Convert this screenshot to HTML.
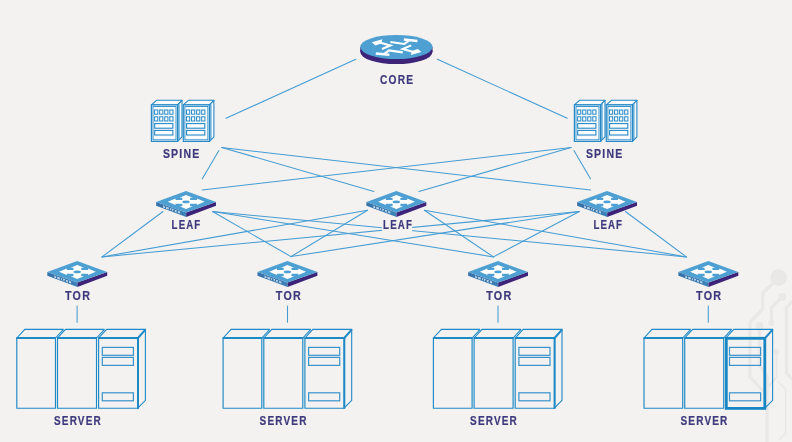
<!DOCTYPE html>
<html lang="en"><head><meta charset="utf-8"><title>Network topology</title>
<style>html,body{margin:0;padding:0;background:#f3f2f0;}body{width:792px;height:442px;overflow:hidden;}svg{display:block;will-change:transform;}text{font-family:"Liberation Sans", sans-serif;font-weight:700;}</style>
</head><body>
<svg width="792" height="442" viewBox="0 0 792 442">
<defs><linearGradient id="sideg" x1="0" y1="0" x2="1" y2="0"><stop offset="0" stop-color="#3871aa"/><stop offset="1" stop-color="#3d82ba"/></linearGradient></defs>
<rect x="0" y="0" width="792" height="442" fill="#f3f2f0"/>
<g fill="none" stroke="#e9e8e6" stroke-width="3.2" stroke-linecap="round" stroke-linejoin="round">
<path d="M778.7 277.6 L762.8 293 L762.8 308.8 L749.9 322.4 L749.9 377 L762 390"/>
<path d="M782.3 296.8 L771.4 307.7 L771.4 322.9"/>
<path d="M792 301.8 L786.5 307.7 L786.5 373 L792 379"/>
<path d="M759.5 325.8 L759.5 366 L767 376 L767 442"/>
<path d="M776.5 351.4 L776.5 377 L769 386" stroke-width="2.2"/>
<path d="M777.9 381.4 L785.6 389.1 L785.6 433.3 L779.3 440" stroke-width="1.3"/>
</g>
<g fill="#e9e8e6"><circle cx="778.7" cy="277.6" r="8.3"/><circle cx="782.3" cy="296.8" r="3.9"/><circle cx="771.4" cy="322.9" r="3"/><circle cx="759.5" cy="325.8" r="3.8"/><circle cx="776.5" cy="351.4" r="2.8"/></g>
<g stroke="#459cd3" stroke-width="1.05" stroke-linecap="round" fill="none">
<line x1="355.8" y1="59.2" x2="226.0" y2="118.3"/>
<line x1="437.4" y1="59.2" x2="567.2" y2="118.3"/>
<line x1="218.9" y1="150.6" x2="202.2" y2="178.9"/>
<line x1="221.7" y1="147.5" x2="373.9" y2="191.4"/>
<line x1="221.7" y1="147.5" x2="590.6" y2="190.0"/>
<line x1="573.9" y1="150.6" x2="590.6" y2="178.9"/>
<line x1="571.1" y1="147.5" x2="418.9" y2="191.4"/>
<line x1="571.1" y1="147.5" x2="202.2" y2="190.0"/>
<line x1="163.0" y1="211.5" x2="102.0" y2="256.9"/>
<line x1="212.5" y1="211.5" x2="291.0" y2="256.6"/>
<line x1="212.5" y1="211.5" x2="493.4" y2="256.9"/>
<line x1="212.5" y1="211.5" x2="686.4" y2="256.9"/>
<line x1="367.5" y1="210.3" x2="102.0" y2="256.9"/>
<line x1="367.5" y1="210.3" x2="291.0" y2="256.6"/>
<line x1="424.4" y1="210.3" x2="493.4" y2="256.9"/>
<line x1="424.4" y1="210.3" x2="686.4" y2="256.9"/>
<line x1="579.4" y1="211.5" x2="102.0" y2="256.9"/>
<line x1="579.4" y1="211.5" x2="291.0" y2="256.6"/>
<line x1="579.4" y1="211.5" x2="493.4" y2="256.9"/>
<line x1="625.4" y1="211.5" x2="686.4" y2="256.9"/>
<line x1="77.1" y1="306.0" x2="77.1" y2="322.3"/>
<line x1="287.5" y1="306.0" x2="287.5" y2="322.3"/>
<line x1="498.0" y1="306.0" x2="498.0" y2="322.3"/>
<line x1="708.3" y1="306.0" x2="708.3" y2="322.3"/>
</g>
<rect x="381.9" y="218" width="30.3" height="16" fill="#f3f2f0"/>
<g>
<ellipse cx="396.4" cy="52" rx="36.1" ry="12.1" fill="#3e2479"/>
<rect x="360.3" y="47" width="72.2" height="5" fill="#3e2479"/>
<ellipse cx="396.4" cy="47" rx="36.1" ry="12.1" fill="#4fa0d2"/>
<g transform="translate(396.6 47.2)"><g fill="none" stroke="#fff" stroke-width="2.1" stroke-linejoin="miter"><path d="M-18,-5 L-6.2,-1.8 L-14.6,1.8"/><path d="M12.4,-6.6 L7.6,-3.2 L-6.2,-5.2"/><path d="M7.2,-7.6 L20.8,-6.2" stroke-width="2.5"/></g><polygon points="-24.8,-4.9 -14.2,-7.9 -15.4,-3.8 -21.2,-1.8" fill="#fff"/><g transform="rotate(180)"><g fill="none" stroke="#fff" stroke-width="2.1" stroke-linejoin="miter"><path d="M-18,-5 L-6.2,-1.8 L-14.6,1.8"/><path d="M12.4,-6.6 L7.6,-3.2 L-6.2,-5.2"/><path d="M7.2,-7.6 L20.8,-6.2" stroke-width="2.5"/></g><polygon points="-24.8,-4.9 -14.2,-7.9 -15.4,-3.8 -21.2,-1.8" fill="#fff"/></g></g>
</g>
<text id="lc" x="380.10" y="84.10" font-size="12.2" letter-spacing="1.4" fill="#3e397c" stroke="#3e397c" stroke-width="0.2" textLength="34.10" lengthAdjust="spacingAndGlyphs">CORE</text>
<g transform="translate(151.4 0)" stroke="#2589c8" stroke-linejoin="miter" fill="none">
<polygon points="0,104.9 5.1,100.3 30.6,100.3 26.2,104.9" fill="#f9fafb" stroke-width="1.1" stroke-linejoin="round"/>
<polygon points="26.2,104.9 30.6,100.3 30.6,136.8 26.2,141.4" fill="#f9fafb" stroke-width="1.1" stroke-linejoin="round"/>
<line x1="27.6" y1="104.2" x2="27.6" y2="139.6" stroke-width="1"/>
<rect x="0" y="104.9" width="26.2" height="36.5" fill="#f9fafb" stroke-width="1.2"/>
<rect x="1.6" y="106.5" width="23" height="33.3" stroke-width="0.9"/>
<rect x="3.20" y="110.0" width="3.2" height="4.2" fill="#fff" stroke-width="1"/>
<rect x="8.26" y="110.0" width="3.2" height="4.2" fill="#fff" stroke-width="1"/>
<rect x="13.32" y="110.0" width="3.2" height="4.2" fill="#fff" stroke-width="1"/>
<rect x="18.38" y="110.0" width="3.2" height="4.2" fill="#fff" stroke-width="1"/>
<rect x="3.20" y="116.8" width="3.2" height="4.2" fill="#fff" stroke-width="1"/>
<rect x="8.26" y="116.8" width="3.2" height="4.2" fill="#fff" stroke-width="1"/>
<rect x="13.32" y="116.8" width="3.2" height="4.2" fill="#fff" stroke-width="1"/>
<rect x="18.38" y="116.8" width="3.2" height="4.2" fill="#fff" stroke-width="1"/>
<rect x="3.3" y="123.6" width="18.2" height="4.6" fill="#fff" stroke-width="1.1"/>
<rect x="3.3" y="130.4" width="18.2" height="4.6" fill="#fff" stroke-width="1.1"/>
</g>
<g transform="translate(183.3 0)" stroke="#2589c8" stroke-linejoin="miter" fill="none">
<polygon points="0,104.9 5.1,100.3 30.6,100.3 26.2,104.9" fill="#f9fafb" stroke-width="1.1" stroke-linejoin="round"/>
<polygon points="26.2,104.9 30.6,100.3 30.6,136.8 26.2,141.4" fill="#f9fafb" stroke-width="1.1" stroke-linejoin="round"/>
<line x1="27.6" y1="104.2" x2="27.6" y2="139.6" stroke-width="1"/>
<rect x="0" y="104.9" width="26.2" height="36.5" fill="#f9fafb" stroke-width="1.2"/>
<rect x="1.6" y="106.5" width="23" height="33.3" stroke-width="0.9"/>
<rect x="3.20" y="110.0" width="3.2" height="4.2" fill="#fff" stroke-width="1"/>
<rect x="8.26" y="110.0" width="3.2" height="4.2" fill="#fff" stroke-width="1"/>
<rect x="13.32" y="110.0" width="3.2" height="4.2" fill="#fff" stroke-width="1"/>
<rect x="18.38" y="110.0" width="3.2" height="4.2" fill="#fff" stroke-width="1"/>
<rect x="3.20" y="116.8" width="3.2" height="4.2" fill="#fff" stroke-width="1"/>
<rect x="8.26" y="116.8" width="3.2" height="4.2" fill="#fff" stroke-width="1"/>
<rect x="13.32" y="116.8" width="3.2" height="4.2" fill="#fff" stroke-width="1"/>
<rect x="18.38" y="116.8" width="3.2" height="4.2" fill="#fff" stroke-width="1"/>
<rect x="3.3" y="123.6" width="18.2" height="4.6" fill="#fff" stroke-width="1.1"/>
<rect x="3.3" y="130.4" width="18.2" height="4.6" fill="#fff" stroke-width="1.1"/>
</g>
<g transform="translate(574.4 0)" stroke="#2589c8" stroke-linejoin="miter" fill="none">
<polygon points="0,104.9 5.1,100.3 30.6,100.3 26.2,104.9" fill="#f9fafb" stroke-width="1.1" stroke-linejoin="round"/>
<polygon points="26.2,104.9 30.6,100.3 30.6,136.8 26.2,141.4" fill="#f9fafb" stroke-width="1.1" stroke-linejoin="round"/>
<line x1="27.6" y1="104.2" x2="27.6" y2="139.6" stroke-width="1"/>
<rect x="0" y="104.9" width="26.2" height="36.5" fill="#f9fafb" stroke-width="1.2"/>
<rect x="1.6" y="106.5" width="23" height="33.3" stroke-width="0.9"/>
<rect x="3.20" y="110.0" width="3.2" height="4.2" fill="#fff" stroke-width="1"/>
<rect x="8.26" y="110.0" width="3.2" height="4.2" fill="#fff" stroke-width="1"/>
<rect x="13.32" y="110.0" width="3.2" height="4.2" fill="#fff" stroke-width="1"/>
<rect x="18.38" y="110.0" width="3.2" height="4.2" fill="#fff" stroke-width="1"/>
<rect x="3.20" y="116.8" width="3.2" height="4.2" fill="#fff" stroke-width="1"/>
<rect x="8.26" y="116.8" width="3.2" height="4.2" fill="#fff" stroke-width="1"/>
<rect x="13.32" y="116.8" width="3.2" height="4.2" fill="#fff" stroke-width="1"/>
<rect x="18.38" y="116.8" width="3.2" height="4.2" fill="#fff" stroke-width="1"/>
<rect x="3.3" y="123.6" width="18.2" height="4.6" fill="#fff" stroke-width="1.1"/>
<rect x="3.3" y="130.4" width="18.2" height="4.6" fill="#fff" stroke-width="1.1"/>
</g>
<g transform="translate(606.3 0)" stroke="#2589c8" stroke-linejoin="miter" fill="none">
<polygon points="0,104.9 5.1,100.3 30.6,100.3 26.2,104.9" fill="#f9fafb" stroke-width="1.1" stroke-linejoin="round"/>
<polygon points="26.2,104.9 30.6,100.3 30.6,136.8 26.2,141.4" fill="#f9fafb" stroke-width="1.1" stroke-linejoin="round"/>
<line x1="27.6" y1="104.2" x2="27.6" y2="139.6" stroke-width="1"/>
<rect x="0" y="104.9" width="26.2" height="36.5" fill="#f9fafb" stroke-width="1.2"/>
<rect x="1.6" y="106.5" width="23" height="33.3" stroke-width="0.9"/>
<rect x="3.20" y="110.0" width="3.2" height="4.2" fill="#fff" stroke-width="1"/>
<rect x="8.26" y="110.0" width="3.2" height="4.2" fill="#fff" stroke-width="1"/>
<rect x="13.32" y="110.0" width="3.2" height="4.2" fill="#fff" stroke-width="1"/>
<rect x="18.38" y="110.0" width="3.2" height="4.2" fill="#fff" stroke-width="1"/>
<rect x="3.20" y="116.8" width="3.2" height="4.2" fill="#fff" stroke-width="1"/>
<rect x="8.26" y="116.8" width="3.2" height="4.2" fill="#fff" stroke-width="1"/>
<rect x="13.32" y="116.8" width="3.2" height="4.2" fill="#fff" stroke-width="1"/>
<rect x="18.38" y="116.8" width="3.2" height="4.2" fill="#fff" stroke-width="1"/>
<rect x="3.3" y="123.6" width="18.2" height="4.6" fill="#fff" stroke-width="1.1"/>
<rect x="3.3" y="130.4" width="18.2" height="4.6" fill="#fff" stroke-width="1.1"/>
</g>
<text id="ls1" x="162.90" y="158.00" font-size="12.2" letter-spacing="1.4" fill="#3e397c" stroke="#3e397c" stroke-width="0.2" textLength="37.50" lengthAdjust="spacingAndGlyphs">SPINE</text>
<text id="ls2" x="585.90" y="158.00" font-size="12.2" letter-spacing="1.4" fill="#3e397c" stroke="#3e397c" stroke-width="0.2" textLength="37.50" lengthAdjust="spacingAndGlyphs">SPINE</text>
<g transform="translate(186.0 190.9)">
<polygon points="-29.9,11.2 0.2,21.6 0.2,26 -29.9,14.8" fill="url(#sideg)"/>
<polygon points="0.2,21.6 30,11.2 30,14.8 0.2,26" fill="#3e2479"/>
<polygon points="0,0 30,11.2 0.2,21.7 -29.9,11.2" fill="#4fa0d2"/>
<g fill="#fff">
<polygon points="-18.2,10.8 -10.5,7.5 -10.5,9.1 10.9,9.1 10.9,7.5 18.6,10.8 10.9,14.2 10.9,12.9 -10.5,12.9 -10.5,14.2"/>
<polygon points="0,4 6.9,6.8 4.1,6.8 4.1,15.3 6.9,15.3 0,18 -6.5,15.3 -3.7,15.3 -3.7,6.8 -6.5,6.8"/>
</g>
<ellipse cx="0" cy="11" rx="3.7" ry="1.35" fill="#4fa0d2"/>
<text transform="translate(-23.0 16.7) skewY(19.3)" font-size="2.9" fill="#fff" stroke="#fff" stroke-width="0.06" textLength="17.0" lengthAdjust="spacing">SWITCH</text>
</g>
<g transform="translate(396.3 190.9)">
<polygon points="-29.9,11.2 0.2,21.6 0.2,26 -29.9,14.8" fill="url(#sideg)"/>
<polygon points="0.2,21.6 30,11.2 30,14.8 0.2,26" fill="#3e2479"/>
<polygon points="0,0 30,11.2 0.2,21.7 -29.9,11.2" fill="#4fa0d2"/>
<g fill="#fff">
<polygon points="-18.2,10.8 -10.5,7.5 -10.5,9.1 10.9,9.1 10.9,7.5 18.6,10.8 10.9,14.2 10.9,12.9 -10.5,12.9 -10.5,14.2"/>
<polygon points="0,4 6.9,6.8 4.1,6.8 4.1,15.3 6.9,15.3 0,18 -6.5,15.3 -3.7,15.3 -3.7,6.8 -6.5,6.8"/>
</g>
<ellipse cx="0" cy="11" rx="3.7" ry="1.35" fill="#4fa0d2"/>
<text transform="translate(-23.0 16.7) skewY(19.3)" font-size="2.9" fill="#fff" stroke="#fff" stroke-width="0.06" textLength="17.0" lengthAdjust="spacing">SWITCH</text>
</g>
<g transform="translate(607.0 190.9)">
<polygon points="-29.9,11.2 0.2,21.6 0.2,26 -29.9,14.8" fill="url(#sideg)"/>
<polygon points="0.2,21.6 30,11.2 30,14.8 0.2,26" fill="#3e2479"/>
<polygon points="0,0 30,11.2 0.2,21.7 -29.9,11.2" fill="#4fa0d2"/>
<g fill="#fff">
<polygon points="-18.2,10.8 -10.5,7.5 -10.5,9.1 10.9,9.1 10.9,7.5 18.6,10.8 10.9,14.2 10.9,12.9 -10.5,12.9 -10.5,14.2"/>
<polygon points="0,4 6.9,6.8 4.1,6.8 4.1,15.3 6.9,15.3 0,18 -6.5,15.3 -3.7,15.3 -3.7,6.8 -6.5,6.8"/>
</g>
<ellipse cx="0" cy="11" rx="3.7" ry="1.35" fill="#4fa0d2"/>
<text transform="translate(-23.0 16.7) skewY(19.3)" font-size="2.9" fill="#fff" stroke="#fff" stroke-width="0.06" textLength="17.0" lengthAdjust="spacing">SWITCH</text>
</g>
<text id="ll1" x="171.60" y="229.00" font-size="12.2" letter-spacing="1.4" fill="#3e397c" stroke="#3e397c" stroke-width="0.2" textLength="29.80" lengthAdjust="spacingAndGlyphs">LEAF</text>
<text id="ll2" x="383.10" y="229.00" font-size="12.2" letter-spacing="1.4" fill="#3e397c" stroke="#3e397c" stroke-width="0.2" textLength="29.90" lengthAdjust="spacingAndGlyphs">LEAF</text>
<text id="ll3" x="593.40" y="229.00" font-size="12.2" letter-spacing="1.4" fill="#3e397c" stroke="#3e397c" stroke-width="0.2" textLength="29.70" lengthAdjust="spacingAndGlyphs">LEAF</text>
<g transform="translate(77.2 260.9)">
<polygon points="-29.9,11.2 0.2,21.6 0.2,26 -29.9,14.8" fill="url(#sideg)"/>
<polygon points="0.2,21.6 30,11.2 30,14.8 0.2,26" fill="#3e2479"/>
<polygon points="0,0 30,11.2 0.2,21.7 -29.9,11.2" fill="#4fa0d2"/>
<g fill="#fff">
<polygon points="-18.2,10.8 -10.5,7.5 -10.5,9.1 10.9,9.1 10.9,7.5 18.6,10.8 10.9,14.2 10.9,12.9 -10.5,12.9 -10.5,14.2"/>
<polygon points="0,4 6.9,6.8 4.1,6.8 4.1,15.3 6.9,15.3 0,18 -6.5,15.3 -3.7,15.3 -3.7,6.8 -6.5,6.8"/>
</g>
<ellipse cx="0" cy="11" rx="3.7" ry="1.35" fill="#4fa0d2"/>
<text transform="translate(-23.0 16.7) skewY(19.3)" font-size="2.9" fill="#fff" stroke="#fff" stroke-width="0.06" textLength="17.0" lengthAdjust="spacing">SWITCH</text>
</g>
<g transform="translate(287.4 260.9)">
<polygon points="-29.9,11.2 0.2,21.6 0.2,26 -29.9,14.8" fill="url(#sideg)"/>
<polygon points="0.2,21.6 30,11.2 30,14.8 0.2,26" fill="#3e2479"/>
<polygon points="0,0 30,11.2 0.2,21.7 -29.9,11.2" fill="#4fa0d2"/>
<g fill="#fff">
<polygon points="-18.2,10.8 -10.5,7.5 -10.5,9.1 10.9,9.1 10.9,7.5 18.6,10.8 10.9,14.2 10.9,12.9 -10.5,12.9 -10.5,14.2"/>
<polygon points="0,4 6.9,6.8 4.1,6.8 4.1,15.3 6.9,15.3 0,18 -6.5,15.3 -3.7,15.3 -3.7,6.8 -6.5,6.8"/>
</g>
<ellipse cx="0" cy="11" rx="3.7" ry="1.35" fill="#4fa0d2"/>
<text transform="translate(-23.0 16.7) skewY(19.3)" font-size="2.9" fill="#fff" stroke="#fff" stroke-width="0.06" textLength="17.0" lengthAdjust="spacing">SWITCH</text>
</g>
<g transform="translate(498.0 260.9)">
<polygon points="-29.9,11.2 0.2,21.6 0.2,26 -29.9,14.8" fill="url(#sideg)"/>
<polygon points="0.2,21.6 30,11.2 30,14.8 0.2,26" fill="#3e2479"/>
<polygon points="0,0 30,11.2 0.2,21.7 -29.9,11.2" fill="#4fa0d2"/>
<g fill="#fff">
<polygon points="-18.2,10.8 -10.5,7.5 -10.5,9.1 10.9,9.1 10.9,7.5 18.6,10.8 10.9,14.2 10.9,12.9 -10.5,12.9 -10.5,14.2"/>
<polygon points="0,4 6.9,6.8 4.1,6.8 4.1,15.3 6.9,15.3 0,18 -6.5,15.3 -3.7,15.3 -3.7,6.8 -6.5,6.8"/>
</g>
<ellipse cx="0" cy="11" rx="3.7" ry="1.35" fill="#4fa0d2"/>
<text transform="translate(-23.0 16.7) skewY(19.3)" font-size="2.9" fill="#fff" stroke="#fff" stroke-width="0.06" textLength="17.0" lengthAdjust="spacing">SWITCH</text>
</g>
<g transform="translate(708.3 260.9)">
<polygon points="-29.9,11.2 0.2,21.6 0.2,26 -29.9,14.8" fill="url(#sideg)"/>
<polygon points="0.2,21.6 30,11.2 30,14.8 0.2,26" fill="#3e2479"/>
<polygon points="0,0 30,11.2 0.2,21.7 -29.9,11.2" fill="#4fa0d2"/>
<g fill="#fff">
<polygon points="-18.2,10.8 -10.5,7.5 -10.5,9.1 10.9,9.1 10.9,7.5 18.6,10.8 10.9,14.2 10.9,12.9 -10.5,12.9 -10.5,14.2"/>
<polygon points="0,4 6.9,6.8 4.1,6.8 4.1,15.3 6.9,15.3 0,18 -6.5,15.3 -3.7,15.3 -3.7,6.8 -6.5,6.8"/>
</g>
<ellipse cx="0" cy="11" rx="3.7" ry="1.35" fill="#4fa0d2"/>
<text transform="translate(-23.0 16.7) skewY(19.3)" font-size="2.9" fill="#fff" stroke="#fff" stroke-width="0.06" textLength="17.0" lengthAdjust="spacing">SWITCH</text>
</g>
<text id="lt1" x="65.00" y="299.60" font-size="12.2" letter-spacing="1.4" fill="#3e397c" stroke="#3e397c" stroke-width="0.2" textLength="26.10" lengthAdjust="spacingAndGlyphs">TOR</text>
<text id="lt2" x="275.80" y="299.60" font-size="12.2" letter-spacing="1.4" fill="#3e397c" stroke="#3e397c" stroke-width="0.2" textLength="26.20" lengthAdjust="spacingAndGlyphs">TOR</text>
<text id="lt3" x="486.20" y="299.60" font-size="12.2" letter-spacing="1.4" fill="#3e397c" stroke="#3e397c" stroke-width="0.2" textLength="26.30" lengthAdjust="spacingAndGlyphs">TOR</text>
<text id="lt4" x="696.00" y="299.60" font-size="12.2" letter-spacing="1.4" fill="#3e397c" stroke="#3e397c" stroke-width="0.2" textLength="26.30" lengthAdjust="spacingAndGlyphs">TOR</text>
<g transform="translate(0.0 0)" stroke="#1d89c6" stroke-linejoin="miter" stroke-linecap="butt" fill="none" stroke-width="1.1">
<polyline points="16.8,338.0 24.8,329.4 63.5,329.4"/>
<line x1="55.5" y1="338.0" x2="63.5" y2="329.4"/>
<polyline points="57.5,338.0 65.5,329.4 104.5,329.4"/>
<line x1="96.5" y1="338.0" x2="104.5" y2="329.4"/>
<polyline points="98.6,338.0 106.6,329.4 146.0,329.4"/>
<polyline points="145.4,329.4 145.4,400.3 138.0,407.8"/>
<line x1="138.0" y1="338.0" x2="145.4" y2="329.7" stroke-width="2"/>
<polyline points="16.8,338.0 16.8,408.2 55.5,408.2 55.5,338.0" stroke-width="1.15"/>
<line x1="16.3" y1="338.1" x2="56.0" y2="338.1" stroke-width="2"/>
<polyline points="57.5,338.0 57.5,408.2 96.5,408.2 96.5,338.0" stroke-width="1.15"/>
<line x1="57.0" y1="338.1" x2="97.0" y2="338.1" stroke-width="2"/>
<polyline points="98.6,338.0 98.6,408.2 138.0,408.2 138.0,338.0" stroke-width="1.15"/>
<line x1="98.1" y1="338.1" x2="138.5" y2="338.1" stroke-width="2"/>
<line x1="138.0" y1="338.0" x2="138.0" y2="408.7" stroke-width="2"/>
<rect x="102.3" y="347.4" width="31.1" height="7.9" stroke-width="1.2" stroke="#3892cc"/>
<rect x="102.3" y="357.4" width="31.1" height="8.0" stroke-width="1.2" stroke="#3892cc"/>
<rect x="102.3" y="392.8" width="31.1" height="8.0" stroke-width="1.2" stroke="#3892cc"/>
</g>
<g transform="translate(206.3 0)" stroke="#1d89c6" stroke-linejoin="miter" stroke-linecap="butt" fill="none" stroke-width="1.1">
<polyline points="16.8,338.0 24.8,329.4 63.5,329.4"/>
<line x1="55.5" y1="338.0" x2="63.5" y2="329.4"/>
<polyline points="57.5,338.0 65.5,329.4 104.5,329.4"/>
<line x1="96.5" y1="338.0" x2="104.5" y2="329.4"/>
<polyline points="98.6,338.0 106.6,329.4 146.0,329.4"/>
<polyline points="145.4,329.4 145.4,400.3 138.0,407.8"/>
<line x1="138.0" y1="338.0" x2="145.4" y2="329.7" stroke-width="2"/>
<polyline points="16.8,338.0 16.8,408.2 55.5,408.2 55.5,338.0" stroke-width="1.15"/>
<line x1="16.3" y1="338.1" x2="56.0" y2="338.1" stroke-width="2"/>
<polyline points="57.5,338.0 57.5,408.2 96.5,408.2 96.5,338.0" stroke-width="1.15"/>
<line x1="57.0" y1="338.1" x2="97.0" y2="338.1" stroke-width="2"/>
<polyline points="98.6,338.0 98.6,408.2 138.0,408.2 138.0,338.0" stroke-width="1.15"/>
<line x1="98.1" y1="338.1" x2="138.5" y2="338.1" stroke-width="2"/>
<line x1="138.0" y1="338.0" x2="138.0" y2="408.7" stroke-width="2"/>
<rect x="102.3" y="347.4" width="31.1" height="7.9" stroke-width="1.2" stroke="#3892cc"/>
<rect x="102.3" y="357.4" width="31.1" height="8.0" stroke-width="1.2" stroke="#3892cc"/>
<rect x="102.3" y="392.8" width="31.1" height="8.0" stroke-width="1.2" stroke="#3892cc"/>
</g>
<g transform="translate(416.6 0)" stroke="#1d89c6" stroke-linejoin="miter" stroke-linecap="butt" fill="none" stroke-width="1.1">
<polyline points="16.8,338.0 24.8,329.4 63.5,329.4"/>
<line x1="55.5" y1="338.0" x2="63.5" y2="329.4"/>
<polyline points="57.5,338.0 65.5,329.4 104.5,329.4"/>
<line x1="96.5" y1="338.0" x2="104.5" y2="329.4"/>
<polyline points="98.6,338.0 106.6,329.4 146.0,329.4"/>
<polyline points="145.4,329.4 145.4,400.3 138.0,407.8"/>
<line x1="138.0" y1="338.0" x2="145.4" y2="329.7" stroke-width="2"/>
<polyline points="16.8,338.0 16.8,408.2 55.5,408.2 55.5,338.0" stroke-width="1.15"/>
<line x1="16.3" y1="338.1" x2="56.0" y2="338.1" stroke-width="2"/>
<polyline points="57.5,338.0 57.5,408.2 96.5,408.2 96.5,338.0" stroke-width="1.15"/>
<line x1="57.0" y1="338.1" x2="97.0" y2="338.1" stroke-width="2"/>
<polyline points="98.6,338.0 98.6,408.2 138.0,408.2 138.0,338.0" stroke-width="1.15"/>
<line x1="98.1" y1="338.1" x2="138.5" y2="338.1" stroke-width="2"/>
<line x1="138.0" y1="338.0" x2="138.0" y2="408.7" stroke-width="2"/>
<rect x="102.3" y="347.4" width="31.1" height="7.9" stroke-width="1.2" stroke="#3892cc"/>
<rect x="102.3" y="357.4" width="31.1" height="8.0" stroke-width="1.2" stroke="#3892cc"/>
<rect x="102.3" y="392.8" width="31.1" height="8.0" stroke-width="1.2" stroke="#3892cc"/>
</g>
<g transform="translate(627.2 0)" stroke="#1d89c6" stroke-linejoin="miter" stroke-linecap="butt" fill="none" stroke-width="1.1">
<polyline points="16.8,338.0 24.8,329.4 63.5,329.4"/>
<line x1="55.5" y1="338.0" x2="63.5" y2="329.4"/>
<polyline points="57.5,338.0 65.5,329.4 104.5,329.4"/>
<line x1="96.5" y1="338.0" x2="104.5" y2="329.4"/>
<polyline points="98.6,338.0 106.6,329.4 146.0,329.4"/>
<polyline points="145.4,329.4 145.4,400.3 138.0,407.8"/>
<line x1="138.0" y1="338.0" x2="145.4" y2="329.7" stroke-width="2"/>
<polyline points="16.8,338.0 16.8,408.2 55.5,408.2 55.5,338.0" stroke-width="1.15"/>
<line x1="16.3" y1="338.1" x2="56.0" y2="338.1" stroke-width="2"/>
<polyline points="57.5,338.0 57.5,408.2 96.5,408.2 96.5,338.0" stroke-width="1.15"/>
<line x1="57.0" y1="338.1" x2="97.0" y2="338.1" stroke-width="2"/>
<rect x="99.1" y="338.3" width="38.5" height="70.1" stroke-width="2.8" stroke="#1786c4"/>
<rect x="102.3" y="347.4" width="31.1" height="7.9" stroke-width="1.2" stroke="#3892cc"/>
<rect x="102.3" y="357.4" width="31.1" height="8.0" stroke-width="1.2" stroke="#3892cc"/>
<rect x="102.3" y="392.8" width="31.1" height="8.0" stroke-width="1.2" stroke="#3892cc"/>
</g>
<text id="lv1" x="54.00" y="424.90" font-size="12.2" letter-spacing="1.4" fill="#3e397c" stroke="#3e397c" stroke-width="0.2" textLength="47.90" lengthAdjust="spacingAndGlyphs">SERVER</text>
<text id="lv2" x="259.60" y="424.90" font-size="12.2" letter-spacing="1.4" fill="#3e397c" stroke="#3e397c" stroke-width="0.2" textLength="48.00" lengthAdjust="spacingAndGlyphs">SERVER</text>
<text id="lv3" x="470.10" y="424.90" font-size="12.2" letter-spacing="1.4" fill="#3e397c" stroke="#3e397c" stroke-width="0.2" textLength="47.90" lengthAdjust="spacingAndGlyphs">SERVER</text>
<text id="lv4" x="680.50" y="424.90" font-size="12.2" letter-spacing="1.4" fill="#3e397c" stroke="#3e397c" stroke-width="0.2" textLength="48.00" lengthAdjust="spacingAndGlyphs">SERVER</text>
</svg></body></html>
